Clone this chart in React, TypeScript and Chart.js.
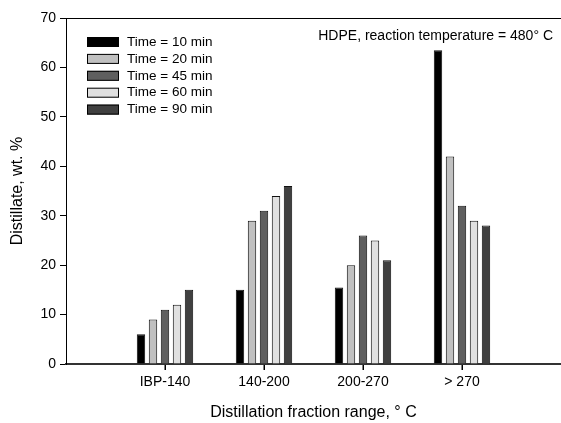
import React, { useEffect, useRef } from 'react';
import { Chart, registerables } from 'chart.js';

Chart.register(...registerables);

const categories = ['IBP-140', '140-200', '200-270', '> 270'];
const seriesLabels = ['Time = 10 min', 'Time = 20 min', 'Time = 45 min', 'Time = 60 min', 'Time = 90 min'];
const time10 = [6, 15, 15.5, 63.5];
const time20 = [9, 29, 20, 42];
const time45 = [11, 31, 26, 32];
const time60 = [12, 34, 25, 29];
const time90 = [15, 36, 21, 28];
const seriesValues = [time10, time20, time45, time60, time90];
const seriesColors = ['#000000', '#c0c0c0', '#5f5f5f', '#e0e0e0', '#404040'];
const yMin = 0;
const yMax = 70;
const yStep = 10;
const annotationText = 'HDPE, reaction temperature = 480\u00B0 C';
const xTitle = 'Distillation fraction range, \u00B0 C';
const yTitle = 'Distillate, wt. %';

const FONT = "'Liberation Sans', Arial, sans-serif";

const overlayPlugin = {
  id: 'overlay',
  afterDraw(chart: any) {
    const { ctx, chartArea } = chart;
    const xs = chart.scales.x;
    ctx.save();
    ctx.strokeStyle = '#000';
    ctx.lineWidth = 1;
    ctx.beginPath();
    ctx.moveTo(chartArea.left, chartArea.top + 0.5);
    ctx.lineTo(chartArea.right, chartArea.top + 0.5);
    ctx.stroke();
    // x tick marks
    ctx.fillStyle = '#000';
    categories.forEach((_, i) => {
      const px = Math.round(xs.getPixelForValue(i + 1));
      ctx.fillRect(px - 0.5, chartArea.bottom + 1, 1.5, 5);
    });
    ctx.font = `13.5px ${FONT}`;
    ctx.textBaseline = 'middle';
    ctx.textAlign = 'left';
    chart.data.datasets.forEach((ds: any, i: number) => {
      const cy = chartArea.top + 24 + i * 16.9;
      const x = chartArea.left + 21;
      ctx.fillStyle = ds.backgroundColor;
      ctx.fillRect(x, cy - 5, 32, 10);
      ctx.strokeStyle = '#000';
      ctx.lineWidth = 1;
      ctx.strokeRect(x + 0.5, cy - 4.5, 31, 9);
      ctx.fillStyle = '#000';
      ctx.fillText(ds.label, x + 40, cy);
    });
    ctx.font = `14px ${FONT}`;
    ctx.textAlign = 'right';
    ctx.fillText(annotationText, chartArea.right - 8, chartArea.top + 18);
    ctx.restore();
  },
};

export default function App() {
  const ref = useRef<HTMLCanvasElement | null>(null);
  useEffect(() => {
    document.body.style.margin = '0';
    const canvas = ref.current;
    if (!canvas) return;
    const chart = new Chart(canvas, {
      type: 'bar',
      data: {
        datasets: seriesValues.map((vals, si) => ({
          label: seriesLabels[si],
          data: vals.map((v, i) => ({ x: i + 1, y: v })),
          backgroundColor: seriesColors[si],
          borderColor: '#111',
          borderWidth: 1,
          categoryPercentage: 0.606,
          barPercentage: 0.7,
        })),
      },
      options: {
        responsive: false,
        animation: false,
        layout: { padding: { top: 18, right: 0, left: 0, bottom: 0 } },
        plugins: { legend: { display: false }, tooltip: { enabled: false } },
        scales: {
          x: {
            type: 'linear',
            offset: false,
            min: 0,
            max: categories.length + 1,
            afterBuildTicks: (s: any) => {
              s.ticks = categories.map((_, i) => ({ value: i + 1 }));
            },
            afterFit: (s: any) => {
              s.height = 59;
            },
            grid: { offset: false, drawOnChartArea: false, drawTicks: true, tickLength: 6, color: '#000' },
            border: { display: true, color: '#333', width: 2 },
            ticks: {
              autoSkip: false,
              maxRotation: 0,
              padding: 4,
              color: '#000',
              font: { family: FONT, size: 14 },
              callback: (v: any) => categories[Math.round(Number(v)) - 1] ?? '',
            },
            title: {
              display: true,
              text: xTitle,
              color: '#000',
              font: { family: FONT, size: 16 },
              padding: { top: 0, bottom: 1 },
            },
          },
          y: {
            min: yMin,
            max: yMax,
            afterFit: (s: any) => {
              s.width = 66;
            },
            grid: { drawOnChartArea: false, drawTicks: true, tickLength: 6, color: '#000' },
            border: { display: true, color: '#000', width: 1 },
            ticks: {
              stepSize: yStep,
              padding: 4,
              color: '#000',
              font: { family: FONT, size: 14 },
            },
            title: {
              display: true,
              text: yTitle,
              color: '#000',
              font: { family: FONT, size: 16 },
              padding: { top: 8, bottom: 0 },
            },
          },
        },
      } as any,
      plugins: [overlayPlugin],
    });
    return () => chart.destroy();
  }, []);
  return (
    <div style={{ width: 561, height: 423 }}>
      <canvas ref={ref} width={561} height={423} style={{ display: 'block' }} />
    </div>
  );
}
